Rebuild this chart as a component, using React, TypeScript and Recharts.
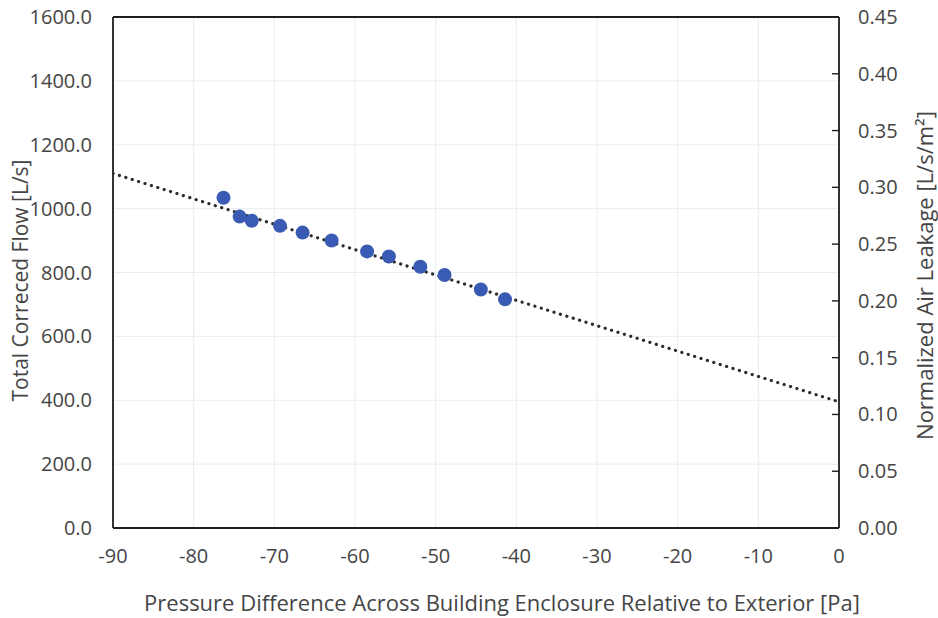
import React from 'react';
import { ComposedChart, Scatter, Line, XAxis, YAxis, CartesianGrid, Label, ReferenceLine } from 'recharts';

const pressure = [-76.3, -74.3, -72.8, -69.3, -66.5, -62.9, -58.5, -55.8, -51.9, -48.9, -44.4, -41.4];
const flow = [1034, 975, 962, 946, 925, 900, 866, 850, 818, 792, 747, 716];
const trendX = [-90, 0];
const trendY = [1110, 395];
const xTicks = [-90, -80, -70, -60, -50, -40, -30, -20, -10, 0];
const leftTicks = [0, 200, 400, 600, 800, 1000, 1200, 1400, 1600];
const rightTicks = [0, 0.05, 0.1, 0.15, 0.2, 0.25, 0.3, 0.35, 0.4, 0.45];

const points = pressure.map((x, i) => ({ x, y: flow[i] }));
const trend = trendX.map((x, i) => ({ x, t: trendY[i] }));

const FONT = "'Open Sans', sans-serif";
const TXT = '#454545';
const AX = '#1e1e1e';

const RightTick = (props: any) => {
  const { x, y, payload } = props;
  return (
    <g>
      <line x1={x - 7} y1={y} x2={x} y2={y} stroke={AX} strokeWidth={1.4} />
      <text x={x + 19} y={y} dy={7} fill={TXT} fontSize={20} fontFamily={FONT} textAnchor="start">
        {Number(payload.value).toFixed(2)}
      </text>
    </g>
  );
};

export default function App() {
  return (
    <div style={{ position: 'absolute', left: 0, top: 0, background: '#fff' }}>
      <ComposedChart width={938} height={618} margin={{ top: 17, right: 0, bottom: 0, left: 0 }}>
        <CartesianGrid stroke="#e8edf2" strokeWidth={1} horizontalValues={leftTicks} verticalValues={xTicks} yAxisId="left" />
        <XAxis
          type="number"
          dataKey="x"
          domain={[-90, 0]}
          ticks={xTicks}
          height={90}
          axisLine={{ stroke: AX, strokeWidth: 1.8 }}
          tickLine={false}
          tickMargin={15}
          tick={{ fill: TXT, fontSize: 20, fontFamily: FONT }}
          allowDataOverflow
        >
          <Label value="Pressure Difference Across Building Enclosure Relative to Exterior [Pa]" position="insideBottom" offset={7} dx={26} fill={TXT} fontSize={22} fontFamily={FONT} />
        </XAxis>
        <YAxis
          yAxisId="left"
          type="number"
          domain={[0, 1600]}
          ticks={leftTicks}
          width={113}
          axisLine={{ stroke: AX, strokeWidth: 1.8 }}
          tickLine={false}
          tickMargin={15}
          tickFormatter={(v: number) => v.toFixed(1)}
          tick={{ fill: TXT, fontSize: 20, fontFamily: FONT }}
          allowDataOverflow
        >
          <Label value="Total Correced Flow [L/s]" angle={-90} position="insideLeft" offset={0} dx={21} dy={8} fill={TXT} fontSize={21} fontFamily={FONT} style={{ textAnchor: 'middle' }} />
        </YAxis>
        <YAxis
          yAxisId="right"
          orientation="right"
          type="number"
          domain={[0, 0.45]}
          ticks={rightTicks}
          width={99}
          axisLine={{ stroke: AX, strokeWidth: 1.8 }}
          tickLine={false}
          tickSize={0}
          tickMargin={0}
          tick={(p: any) => <RightTick {...p} />}
          allowDataOverflow
        >
          <Label
            value="Normalized Air Leakage [L/s/m²]"
            angle={-90}
            position="insideRight"
            offset={0}
            dx={-13}
            dy={3}
            fill={TXT}
            fontSize={22}
            fontFamily={FONT}
            style={{ textAnchor: 'middle' }}
          />
        </YAxis>
        <ReferenceLine yAxisId="left" y={1600} stroke={AX} strokeWidth={1.8} ifOverflow="extendDomain" />
        <Scatter yAxisId="left" data={points} dataKey="y" fill="#3a5bb3" shape={(p: any) => <circle cx={p.cx} cy={p.cy} r={7} fill="#3a5bb3" />} isAnimationActive={false} />
        <Line
          yAxisId="left"
          data={trend}
          dataKey="t"
          type="linear"
          stroke="#2b2b2b"
          strokeWidth={3.2}
          strokeDasharray="0.1 6.6"
          strokeLinecap="round"
          dot={false}
          activeDot={false}
          isAnimationActive={false}
        />
      </ComposedChart>
    </div>
  );
}
